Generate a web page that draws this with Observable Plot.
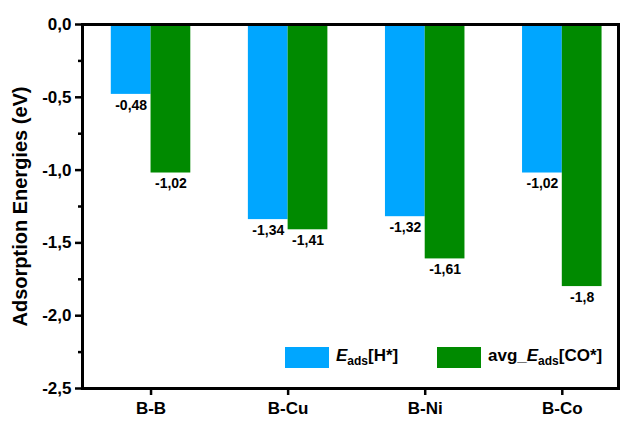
<!DOCTYPE html>
<html><head><meta charset="utf-8">
<script src="https://cdn.jsdelivr.net/npm/d3@7"></script>
<script src="https://cdn.jsdelivr.net/npm/@observablehq/plot@0.6"></script>
<style>
body{margin:0;background:#fff;font-family:Arial,"Liberation Sans",sans-serif;}
#wrap{position:relative;width:632px;height:421px;}
#wrap svg{font-family:Arial,"Liberation Sans",sans-serif;font-weight:bold;color:#000;}
.leg{position:absolute;top:346px;font-weight:bold;font-size:17px;display:flex;align-items:center;z-index:3;}
.sw{display:inline-block;width:44px;height:21px;margin-right:7px;}
sub{font-size:12px;}
#frame{position:absolute;box-sizing:border-box;left:81px;top:23px;width:539px;height:367px;border:3px solid #000;pointer-events:none;z-index:2;}
</style></head>
<body><div id="wrap"></div>
<script>
const categories = ["B-B", "B-Cu", "B-Ni", "B-Co"];
const hValues = [-0.48, -1.34, -1.32, -1.02];
const coValues = [-1.02, -1.41, -1.61, -1.8];
const hLabels = ["-0,48", "-1,34", "-1,32", "-1,02"];
const coLabels = ["-1,02", "-1,41", "-1,61", "-1,8"];
const yTicks = [0, -0.5, -1, -1.5, -2, -2.5];
const minorTicks = [-0.25, -0.75, -1.25, -1.75, -2.25];
const xTicks = [0, 1, 2, 3];

const xMin = -0.5, xMax = 3.41, yMin = -2.5, yMax = 0;
const w = 0.29;
const rows = [];
categories.forEach((c, i) => {
  rows.push({i, s: "h", x1: i - w, x2: i, y: hValues[i], label: hLabels[i]});
  rows.push({i, s: "co", x1: i, x2: i + w, y: coValues[i], label: coLabels[i]});
});
const color = {h: "#00a6ff", co: "#008a00"};
const fmt = d => d3.format(".1f")(d).replace(".", ",").replace("−", "-");

const plot = Plot.plot({
  width: 632, height: 421,
  marginLeft: 82, marginRight: 14, marginTop: 24, marginBottom: 33,
  x: {domain: [xMin, xMax], axis: null},
  y: {domain: [yMin, yMax], axis: null},
  marks: [
    Plot.rectY(rows, {x1: "x1", x2: "x2", y1: 0, y2: "y", fill: d => color[d.s]}),
    Plot.text(rows, {x: d => (d.x1 + d.x2) / 2, y: "y", text: "label", dy: 11, fontSize: 14, fontWeight: "bold", fill: "#000"}),
    Plot.frame({stroke: "#000", strokeWidth: 3}),
    Plot.axisY(yTicks, {tickSize: 7, tickFormat: fmt, tickPadding: 4, stroke: "#000", strokeWidth: 2.5, fontSize: 17, fontWeight: "bold", fill: "#000", label: null}),
    Plot.axisY(minorTicks, {tickSize: 4, tickFormat: () => "", stroke: "#000", strokeWidth: 2.5, label: null}),
    Plot.axisX(xTicks, {tickSize: 7, tickFormat: i => categories[i], tickPadding: 6, stroke: "#000", strokeWidth: 2.5, fontSize: 17, fontWeight: "bold", fill: "#000", label: null}),
    Plot.text(["Adsorption Energies (eV)"], {frameAnchor: "left", textAnchor: "middle", dx: -62, rotate: -90, fontSize: 20, fontWeight: "bold", fill: "#000"})
  ]
});
const wrap = document.getElementById("wrap");
wrap.append(plot);
const fr = document.createElement("div");
fr.id = "frame";
wrap.append(fr);
const legend = [["h", "<i>E</i><sub>ads</sub>[H*]", 285], ["co", "avg_<i>E</i><sub>ads</sub>[CO*]", 437]];
legend.forEach(([k, html, left]) => {
  const d = document.createElement("div");
  d.className = "leg"; d.style.left = left + "px";
  d.innerHTML = `<span class="sw" style="background:${color[k]}"></span><span>${html}</span>`;
  wrap.append(d);
});
</script></body></html>
